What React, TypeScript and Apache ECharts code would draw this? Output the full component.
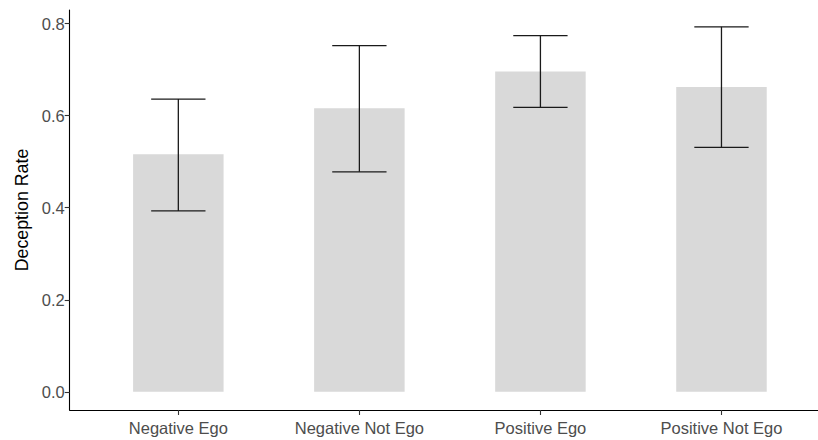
import React, { useEffect, useRef } from "react";
import * as echarts from "echarts";

const categories = ["Negative Ego", "Negative Not Ego", "Positive Ego", "Positive Not Ego"];
const means = [0.516, 0.616, 0.696, 0.662];
const lower = [0.393, 0.478, 0.618, 0.531];
const upper = [0.636, 0.752, 0.774, 0.793];
const yTicks = [0, 0.2, 0.4, 0.6, 0.8];
const xPositions = [1, 2, 3, 4];

const FONT = "Liberation Sans, Arial, sans-serif";

export default function App() {
  const ref = useRef<HTMLDivElement>(null);
  useEffect(() => {
    document.body.style.margin = "0";
    if (!ref.current) return;
    const chart = echarts.init(ref.current, undefined, { renderer: "svg" });
    const barData = xPositions.map((x, i) => [x, means[i]]);
    const errData = xPositions.map((x, i) => [x, lower[i], upper[i]]);
    chart.setOption({
      animation: false,
      backgroundColor: "#ffffff",
      textStyle: { fontFamily: FONT },
      grid: { left: 69.7, right: -12.1, top: 10, bottom: 30, outerBoundsMode: "none" },
      xAxis: {
        type: "value",
        min: 0.4,
        max: 4.6,
        splitLine: { show: false },
        axisLine: { show: true, onZero: false, lineStyle: { color: "#000", width: 1.1 } },
        axisTick: { show: true, length: 5, customValues: xPositions, lineStyle: { color: "#333", width: 1.1 } },
        axisLabel: {
          customValues: xPositions,
          formatter: (v: number) => categories[Math.round(v) - 1] ?? "",
          color: "#4d4d4d",
          fontSize: 16.5,
          fontFamily: FONT,
          margin: 9,
        },
      },
      yAxis: {
        type: "value",
        min: -0.0395,
        max: 0.8295,
        name: "Deception Rate",
        nameLocation: "middle",
        nameRotate: 90,
        nameGap: 37,
        nameTextStyle: { color: "#000", fontSize: 17.8, fontFamily: FONT },
        splitLine: { show: false },
        axisLine: { show: true, onZero: false, lineStyle: { color: "#000", width: 1.1 } },
        axisTick: { show: true, length: 5, customValues: yTicks, lineStyle: { color: "#333", width: 1.1 } },
        axisLabel: {
          customValues: yTicks,
          formatter: (v: number) => v.toFixed(1),
          color: "#4d4d4d",
          fontSize: 16.5,
          fontFamily: FONT,
          margin: 5,
        },
      },
      series: [
        {
          type: "bar",
          data: barData,
          barWidth: 90.5,
          itemStyle: { color: "#d9d9d9" },
          silent: true,
        },
        {
          type: "custom",
          data: errData,
          silent: true,
          z: 5,
          renderItem: (params: any, api: any) => {
            const x = api.value(0);
            const lo = api.value(1);
            const hi = api.value(2);
            const top = api.coord([x, hi]);
            const bot = api.coord([x, lo]);
            const half = api.size([0.3, 0])[0] / 2;
            const style = { stroke: "#1a1a1a", lineWidth: 1.3 };
            return {
              type: "group",
              children: [
                { type: "line", shape: { x1: top[0], y1: top[1], x2: bot[0], y2: bot[1] }, style },
                { type: "line", shape: { x1: top[0] - half, y1: top[1], x2: top[0] + half, y2: top[1] }, style },
                { type: "line", shape: { x1: bot[0] - half, y1: bot[1], x2: bot[0] + half, y2: bot[1] }, style },
              ],
            };
          },
        },
      ],
    });
    return () => chart.dispose();
  }, []);
  return <div ref={ref} style={{ width: 818, height: 440 }} />;
}
